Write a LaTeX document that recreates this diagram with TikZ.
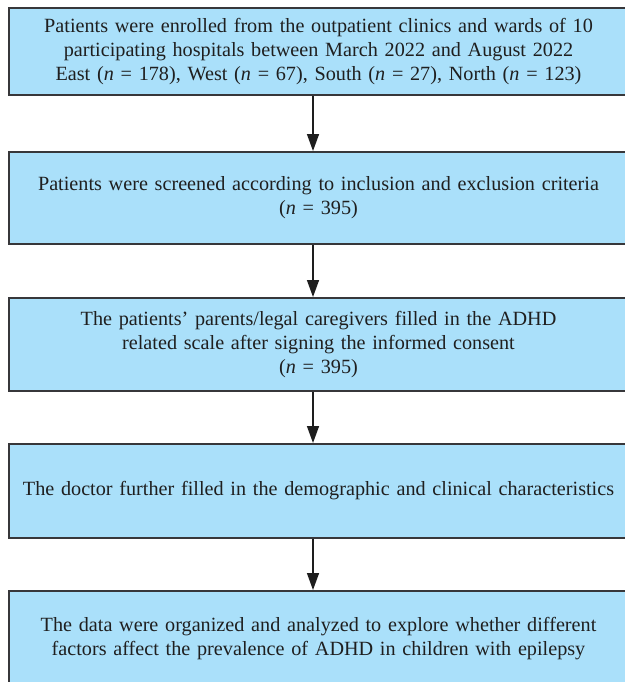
\documentclass[tikz,border=0pt]{standalone}
\usepackage{fontspec}
\setmainfont{Liberation Serif}[WordSpace=0.7]
\usetikzlibrary{arrows.meta}
\definecolor{boxfill}{RGB}{170,224,250}
\definecolor{boxdraw}{RGB}{55,55,58}
\definecolor{arrowcol}{RGB}{30,30,30}
\tikzset{
  flowbox/.style={draw=boxdraw, line width=2pt, fill=boxfill, rectangle,
    minimum width=619pt, text width=610pt, align=center, inner sep=0pt,
    font=\fontsize{20.2pt}{23.8pt}\selectfont, text=black!88},
  flowarrow/.style={draw=arrowcol, line width=1.5pt, -{Triangle[length=17pt,width=12pt]}}
}
\begin{document}
\begin{tikzpicture}[x=1pt,y=-1pt]
\useasboundingbox (0,0) rectangle (624,682);
\node[flowbox, minimum height=86.5pt] (b1) at (318.5,51.75)
  {Patients were enrolled from the outpatient clinics and wards of 10\\
   participating hospitals between March 2022 and August 2022\\
   East (\textit{n} = 178), West (\textit{n} = 67), South (\textit{n} = 27), North (\textit{n} = 123)};
\node[flowbox, minimum height=92pt] (b2) at (318.5,198)
  {Patients were screened according to inclusion and exclusion criteria\\
   (\textit{n} = 395)};
\node[flowbox, minimum height=93pt] (b3) at (318.5,344.5)
  {The patients’ parents/legal caregivers filled in the ADHD\\
   related scale after signing the informed consent\\
   (\textit{n} = 395)};
\node[flowbox, minimum height=93.5pt] (b4) at (318.5,490.75)
  {The doctor further filled in the demographic and clinical characteristics};
\node[flowbox, minimum height=95pt] (b5) at (318.5,638.5)
  {The data were organized and analyzed to explore whether different\\
   factors affect the prevalence of ADHD in children with epilepsy};
\coordinate (ax) at (313,0);
\draw[flowarrow] (b1.south -| ax) -- (b2.north -| ax);
\draw[flowarrow] (b2.south -| ax) -- (b3.north -| ax);
\draw[flowarrow] (b3.south -| ax) -- (b4.north -| ax);
\draw[flowarrow] (b4.south -| ax) -- (b5.north -| ax);
\end{tikzpicture}
\end{document}
